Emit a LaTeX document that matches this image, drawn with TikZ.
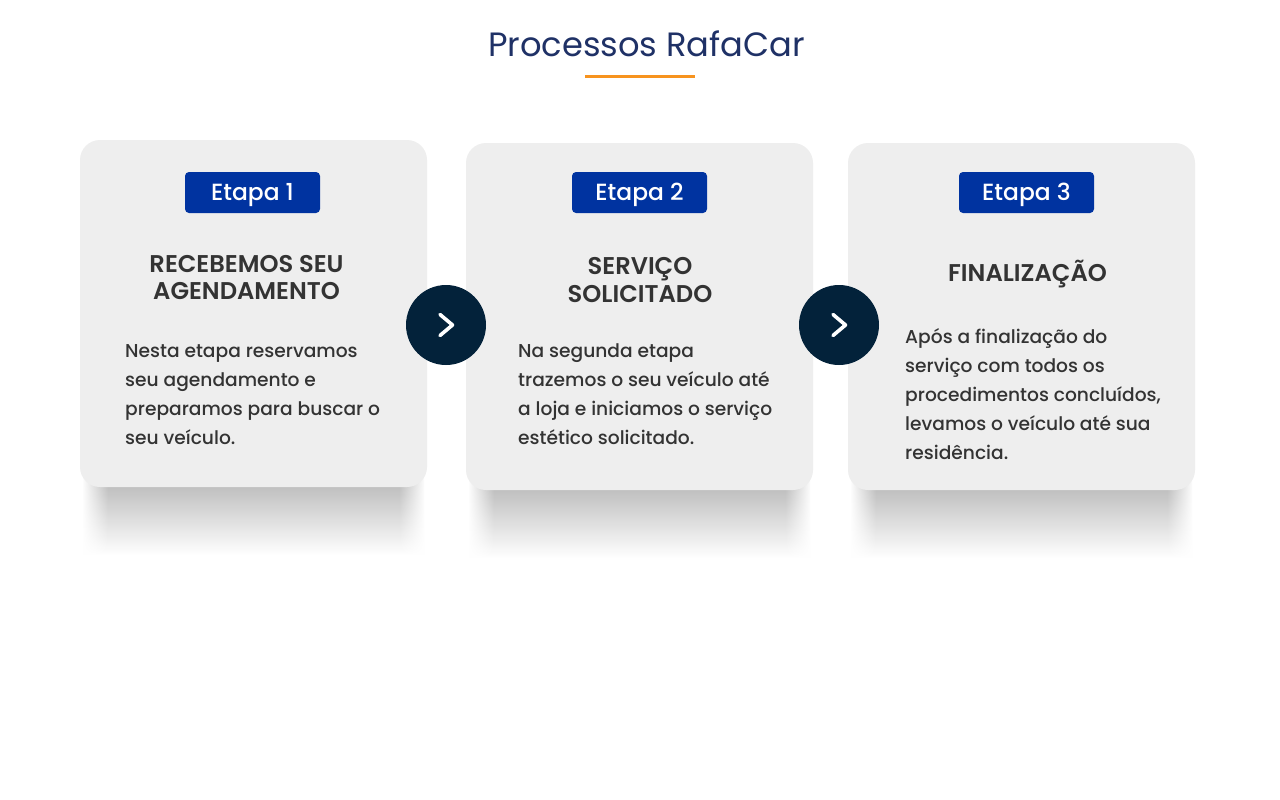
\documentclass[tikz,border=0pt]{standalone}
\usepackage{fontspec}
\setmainfont{Poppins}
\newfontfamily\semib{Poppins SemiBold}
\newfontfamily\medium{Poppins Medium}
\usetikzlibrary{fadings,calc}
\definecolor{cardbg}{HTML}{EEEEEE}
\definecolor{badgeblue}{HTML}{0033A0}
\definecolor{navy}{HTML}{03223A}
\definecolor{titleblue}{HTML}{1F3166}
\definecolor{orangeline}{HTML}{F7931E}
\definecolor{txt}{HTML}{333333}
\begin{document}
\begin{tikzpicture}[x=1pt,y=-1pt,
  card/.style={fill=cardbg, rounded corners=20pt, minimum width=347pt, minimum height=347pt, inner sep=0pt},
  shadowbox/.style={top color=black!32, bottom color=white, draw=none},
  edgeL/.style={fill=white, path fading=east},
  edgeR/.style={fill=white, path fading=west},
  badge/.style={fill=badgeblue, rounded corners=4pt, minimum width=135pt, minimum height=41pt, inner sep=0pt},
  badgetext/.style={anchor=base, text=white, inner sep=0pt, font=\medium\fontsize{23.4}{28}\selectfont},
  heading/.style={anchor=base, text=txt, inner sep=0pt, font=\semib\fontsize{24.2}{29}\selectfont},
  body/.style={anchor=base west, text=txt, inner sep=0pt, font=\medium\fontsize{18.65}{29}\selectfont},
  arrowcircle/.style={circle, fill=navy, minimum size=80pt, inner sep=0pt},
  chevron/.style={draw=white, line width=3.6pt, line cap=round, line join=round}
]
\useasboundingbox (0,0) rectangle (1280,800);
\fill[white] (0,0) rectangle (1280,800);

% title
\node[anchor=base, text=titleblue, inner sep=0pt, font=\fontsize{33.7}{40}\selectfont] (title) at (646.5,56.7) {Processos RafaCar};
\coordinate (ulA) at (585,77);
\coordinate (ulB) at (695,77);
\draw[orangeline, line width=3pt] (ulA) -- (ulB);

% shadows
\shade[shadowbox] (83,467) rectangle (424,555);
\fill[edgeL] (82,467) rectangle (108,556);
\fill[edgeR] (399,467) rectangle (425,556);
\shade[shadowbox] (469,470) rectangle (810,558);
\fill[edgeL] (468,470) rectangle (494,559);
\fill[edgeR] (785,470) rectangle (811,559);
\shade[shadowbox] (851,470) rectangle (1192,558);
\fill[edgeL] (850,470) rectangle (876,559);
\fill[edgeR] (1167,470) rectangle (1193,559);

% cards
\node[card] (card1) at (253.5,313.5) {};
\node[card] (card2) at (639.5,316.5) {};
\node[card] (card3) at (1021.5,316.5) {};

% badges
\node[badge] (b1) at (252.5,192.5) {};
\node[badge] (b2) at (639.5,192.5) {};
\node[badge] (b3) at (1026.5,192.5) {};
\node[badgetext] (bt1) at (252.5,200) {Etapa 1};
\node[badgetext] (bt2) at (639.5,200) {Etapa 2};
\node[badgetext] (bt3) at (1026.5,200) {Etapa 3};

% headings
\node[heading] (h1a) at (246.5,272) {RECEBEMOS SEU};
\node[heading] (h1b) at (246.5,299) {AGENDAMENTO};
\node[heading] (h2a) at (640,274) {SERVIÇO};
\node[heading] (h2b) at (640,302) {SOLICITADO};
\node[heading] (h3a) at (1027.5,281) {FINALIZAÇÃO};

% body card 1
\node[body] (t1a) at (125,357) {Nesta etapa reservamos};
\node[body] (t1b) at (125,386) {seu agendamento e};
\node[body] (t1c) at (125,415) {preparamos para buscar o};
\node[body] (t1d) at (125,444) {seu veículo.};
% body card 2
\node[body] (t2a) at (518,357) {Na segunda etapa};
\node[body] (t2b) at (518,386) {trazemos o seu veículo até};
\node[body] (t2c) at (518,415) {a loja e iniciamos o serviço};
\node[body] (t2d) at (518,444) {estético solicitado.};
% body card 3
\node[body] (t3a) at (905,343) {Após a finalização do};
\node[body] (t3b) at (905,372) {serviço com todos os};
\node[body] (t3c) at (905,401) {procedimentos concluídos,};
\node[body] (t3d) at (905,430) {levamos o veículo até sua};
\node[body] (t3e) at (905,459) {residência.};

% arrow circles
\node[arrowcircle] (c1) at (446,325) {};
\node[arrowcircle] (c2) at (839,325) {};
\draw[chevron] ($(c1)+(-6,-10.5)$) -- ($(c1)+(6.5,0)$) -- ($(c1)+(-6,10.5)$);
\draw[chevron] ($(c2)+(-6,-10.5)$) -- ($(c2)+(6.5,0)$) -- ($(c2)+(-6,10.5)$);
\end{tikzpicture}
\end{document}
